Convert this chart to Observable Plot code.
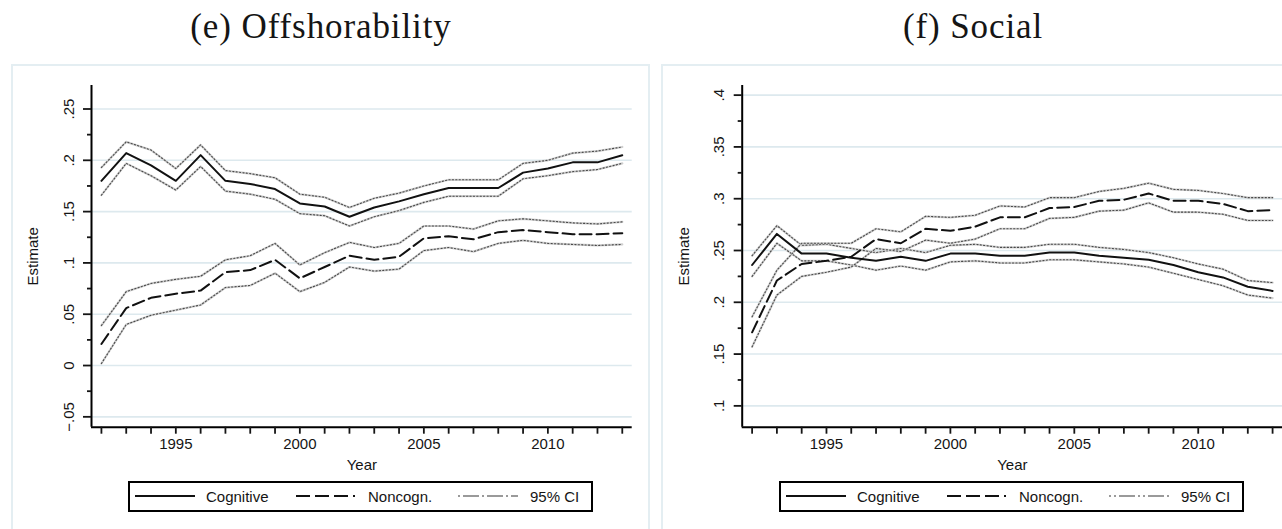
<!DOCTYPE html>
<html>
<head>
<meta charset="utf-8">
<script src="https://cdn.jsdelivr.net/npm/d3@7"></script>
<script src="https://cdn.jsdelivr.net/npm/@observablehq/plot@0.6"></script>
<style>
html, body { margin: 0; padding: 0; background: #fff; }
#root { position: relative; width: 1282px; height: 529px; overflow: hidden; font-family: "Liberation Sans", Arial, sans-serif; color: #111; }
.frame { position: absolute; border: 2px solid #e4eef2; box-sizing: border-box; }
.title { position: absolute; font-family: "Liberation Serif", "Times New Roman", serif; font-size: 35px; letter-spacing: 0.9px; line-height: 40px; color: #151515; white-space: nowrap; transform: translateX(-50%); }
.panel { position: absolute; top: 0; width: 641px; }
.legend { position: absolute; border: 2px solid #000; box-sizing: border-box; background: #fff; height: 31px; width: 465px; top: 481px; }
.legend svg { position: absolute; top: 11px; }
.legend span { position: absolute; top: 0; height: 27px; line-height: 27px; font-size: 15px; color: #151515; white-space: nowrap; }
</style>
</head>
<body>
<div id="root">
  <div class="frame" style="left:11px; top:64px; width:639px; height:500px;"></div>
  <div class="frame" style="left:661px; top:64px; width:660px; height:500px;"></div>
  <div class="title" style="left:321px; top:7px;">(e) Offshorability</div>
  <div class="title" style="left:973px; top:7px;">(f) Social</div>
  <div class="panel" id="left" style="left:0px;"></div>
  <div class="panel" id="right" style="left:641px;"></div>
  <div class="legend" id="legL" style="left:128px;"></div>
  <div class="legend" id="legR" style="left:779px;"></div>
</div>
<script>
// ---------- data ----------
const years = [1992,1993,1994,1995,1996,1997,1998,1999,2000,2001,2002,2003,2004,2005,2006,2007,2008,2009,2010,2011,2012,2013];

// (e) Offshorability
const offCog   = [0.180,0.207,0.195,0.180,0.205,0.180,0.177,0.172,0.158,0.155,0.145,0.154,0.160,0.167,0.173,0.173,0.173,0.188,0.192,0.198,0.198,0.205];
const offCogHi = [0.193,0.218,0.210,0.192,0.215,0.190,0.187,0.183,0.167,0.164,0.154,0.163,0.168,0.175,0.181,0.181,0.181,0.197,0.200,0.207,0.209,0.213];
const offCogLo = [0.166,0.197,0.185,0.171,0.194,0.170,0.167,0.162,0.148,0.146,0.136,0.145,0.151,0.159,0.165,0.165,0.165,0.182,0.185,0.189,0.191,0.197];
const offNon   = [0.021,0.056,0.066,0.070,0.073,0.091,0.093,0.103,0.085,0.096,0.107,0.103,0.106,0.124,0.126,0.123,0.130,0.132,0.130,0.128,0.128,0.129];
const offNonHi = [0.039,0.072,0.080,0.084,0.087,0.103,0.107,0.119,0.098,0.110,0.120,0.115,0.119,0.136,0.136,0.133,0.141,0.143,0.141,0.139,0.138,0.140];
const offNonLo = [0.002,0.040,0.049,0.054,0.059,0.076,0.078,0.090,0.072,0.081,0.096,0.092,0.094,0.112,0.115,0.111,0.119,0.122,0.119,0.118,0.117,0.118];

// (f) Social
const socCog   = [0.236,0.266,0.247,0.247,0.243,0.240,0.244,0.240,0.247,0.247,0.245,0.245,0.248,0.248,0.245,0.243,0.241,0.236,0.229,0.224,0.215,0.211];
const socCogHi = [0.245,0.274,0.255,0.256,0.252,0.248,0.252,0.248,0.255,0.256,0.253,0.253,0.256,0.256,0.253,0.251,0.248,0.243,0.237,0.232,0.221,0.219];
const socCogLo = [0.225,0.257,0.240,0.240,0.236,0.231,0.235,0.231,0.239,0.240,0.238,0.238,0.241,0.241,0.239,0.237,0.234,0.228,0.222,0.216,0.207,0.204];
const socNon   = [0.171,0.221,0.237,0.240,0.244,0.261,0.257,0.271,0.269,0.273,0.282,0.282,0.291,0.292,0.298,0.299,0.305,0.298,0.298,0.295,0.288,0.289];
const socNonHi = [0.186,0.231,0.257,0.257,0.257,0.271,0.268,0.283,0.282,0.284,0.293,0.292,0.301,0.301,0.307,0.310,0.315,0.309,0.308,0.305,0.301,0.301];
const socNonLo = [0.157,0.207,0.225,0.229,0.234,0.252,0.249,0.260,0.257,0.261,0.271,0.271,0.281,0.282,0.288,0.289,0.296,0.287,0.287,0.285,0.279,0.279];

// axis ticks
const offMajor = [-0.05, 0, 0.05, 0.1, 0.15, 0.2, 0.25];
const offMinor = [-0.025, 0.025, 0.075, 0.125, 0.175, 0.225];
const socMajor = [0.1, 0.15, 0.2, 0.25, 0.3, 0.35, 0.4];
const socMinor = [0.125, 0.175, 0.225, 0.275, 0.325, 0.375];
const xLabelYears = [1995, 2000, 2005, 2010];

const legendLabels = ["Cognitive", "Noncogn.", "95% CI"];

// ---------- drawing ----------
const fmtY = d => d === 0 ? "0" : (d < 0 ? "\u2212" : "") + String(Math.abs(+d.toFixed(3))).replace(/^0/, "");
const xDomain = [1991.6, 2013.4];

function makePanel(cfg) {
  const rows = years.map((year, i) => ({
    year,
    cog: cfg.cog[i], cogLo: cfg.cogLo[i], cogHi: cfg.cogHi[i],
    non: cfg.non[i], nonLo: cfg.nonLo[i], nonHi: cfg.nonHi[i]
  }));
  const ciMarks = [];
  for (const key of ["cogHi", "cogLo", "nonHi", "nonLo"]) {
    ciMarks.push(Plot.lineY(rows, {x: "year", y: key, stroke: "#cfcfcf", strokeWidth: 2.2}));
    ciMarks.push(Plot.lineY(rows, {x: "year", y: key, stroke: "#4a4a4a", strokeWidth: 1.1, strokeDasharray: "1.2,2.2"}));
  }
  return Plot.plot({
    width: 641,
    height: 470,
    marginLeft: cfg.marginLeft,
    marginRight: cfg.marginRight,
    marginTop: 85,
    marginBottom: 43.3,
    style: {background: "transparent", fontFamily: "'Liberation Sans', Arial, sans-serif", fontSize: "15px", color: "#151515", overflow: "visible"},
    x: {domain: xDomain},
    y: {domain: cfg.yDomain},
    marks: [
      Plot.ruleY(cfg.major, {stroke: "#dde9ee", strokeWidth: 1.6}),
      ...ciMarks,
      Plot.lineY(rows, {x: "year", y: "non", stroke: "#111", strokeWidth: 2, strokeDasharray: "12,5"}),
      Plot.lineY(rows, {x: "year", y: "cog", stroke: "#111", strokeWidth: 2}),
      Plot.ruleX([xDomain[0]], {stroke: "#000", strokeWidth: 2}),
      Plot.ruleY([cfg.yDomain[0]], {stroke: "#000", strokeWidth: 2}),
      Plot.axisX({ticks: years, tickSize: 7, tickPadding: 4, strokeWidth: 1.8,
        tickFormat: d => xLabelYears.includes(d) ? String(d) : "",
        label: "Year", labelAnchor: "center", labelOffset: 43, labelArrow: "none"}),
      Plot.axisY({ticks: cfg.major, tickSize: 8, tickPadding: 10, tickRotate: -90, strokeWidth: 1.8,
        tickFormat: fmtY, label: "Estimate", labelAnchor: "center", labelOffset: 64, labelArrow: "none"}),
      Plot.axisY({ticks: cfg.minor, tickSize: 4, strokeWidth: 1.8, tickFormat: () => "", label: null})
    ]
  });
}

document.getElementById("left").append(makePanel({
  cog: offCog, cogLo: offCogLo, cogHi: offCogHi, non: offNon, nonLo: offNonLo, nonHi: offNonHi,
  yDomain: [-0.0601, 0.2729], major: offMajor, minor: offMinor, marginLeft: 91, marginRight: 9.3
}));
document.getElementById("right").append(makePanel({
  cog: socCog, cogLo: socCogLo, cogHi: socCogHi, non: socNon, nonLo: socNonLo, nonHi: socNonHi,
  yDomain: [0.0794, 0.4093], major: socMajor, minor: socMinor, marginLeft: 100.7, marginRight: 0
}));

// ---------- legends ----------
function buildLegend(el, ciDash) {
  const items = [
    {x: 5, w: 60, stroke: "#111", dash: null, tx: 76, label: legendLabels[0]},
    {x: 166, w: 59, stroke: "#111", dash: "14,5", tx: 238, label: legendLabels[1]},
    {x: 328, w: 60, stroke: "#9a9a9a", dash: ciDash, tx: 400, label: legendLabels[2]}
  ];
  for (const it of items) {
    const svg = d3.create("svg").attr("width", it.w).attr("height", 4).style("left", it.x + "px");
    svg.append("line").attr("x1", 0).attr("x2", it.w).attr("y1", 2).attr("y2", 2)
      .attr("stroke", it.stroke).attr("stroke-width", 2)
      .attr("stroke-dasharray", it.dash);
    el.append(svg.node());
    const s = document.createElement("span");
    s.style.left = it.tx + "px";
    s.textContent = it.label;
    el.append(s);
  }
}
buildLegend(document.getElementById("legL"), "2,3,16,3");
buildLegend(document.getElementById("legR"), "2,3,2,3,16,3");
</script>
</body>
</html>
